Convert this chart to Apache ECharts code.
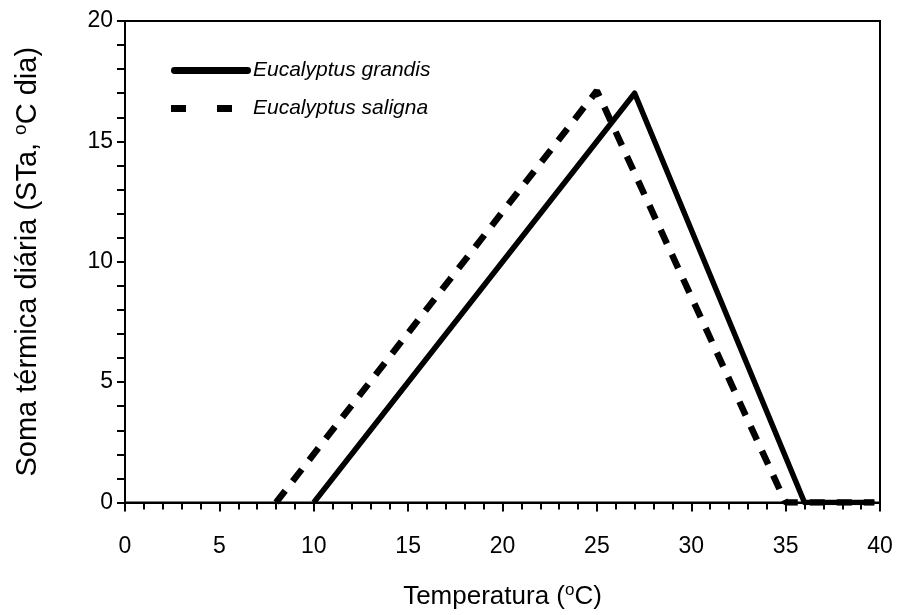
<!DOCTYPE html>
<html>
<head>
<meta charset="utf-8">
<script src="https://cdn.jsdelivr.net/npm/echarts@6/dist/echarts.min.js"></script>
<style>
  html, body { margin: 0; padding: 0; background: #fff; }
  #chartData { width: 903px; height: 615px; }
</style>
</head>
<body>
<div id="chartData"></div>
<script>
// dados
var grandisTemp = [10, 27, 36, 39.7];
var grandisSoma = [0, 17, 0, 0];
var salignaTemp = [8, 25, 35, 39.7];
var salignaSoma = [0, 17.1, 0, 0];
var seriesNames = ['Eucalyptus grandis', 'Eucalyptus saligna'];

function pares(xs, ys) {
    var out = [];
    for (var i = 0; i < xs.length; i++) out.push([xs[i], ys[i]]);
    return out;
}

var myChart = echarts.init(document.getElementById('chartData'));

var fonte = 'Liberation Sans, Arial, sans-serif';
function supRich(size) {
    return {
        sup: { fontSize: size, verticalAlign: 'top', padding: [0, 0, Math.round(size * 0.8), 0], fontFamily: fonte, color: '#000' }
    };
}

var option = {
    animation: false,
    grid: {
        left: 125, right: 23, top: 21, bottom: 111,
        show: true, borderColor: '#000', borderWidth: 2
    },
    legend: {
        orient: 'vertical',
        left: 166, top: 55,
        itemWidth: 80, itemHeight: 7, itemGap: 17,
        textStyle: { fontFamily: fonte, fontSize: 21, fontStyle: 'italic', color: '#000', padding: [0, 0, 0, -3] },
        data: [
            { name: seriesNames[0], icon: 'path://M3,0 H77 A3.5,3.5 0 0 1 77,7 H3 A3.5,3.5 0 0 1 3,0 Z' },
            { name: seriesNames[1], icon: 'path://M0,0 h15 v7 h-15 Z M46,0 h15 v7 h-15 Z M79.98,0 h0.02 v0.02 h-0.02 Z' }
        ]
    },
    xAxis: {
        type: 'value',
        min: 0, max: 40, interval: 5,
        name: 'Temperatura ({sup|o}C)',
        nameLocation: 'middle',
        nameGap: 79,
        nameTextStyle: { fontFamily: fonte, fontSize: 26, color: '#000', rich: supRich(17) },
        axisLine: { lineStyle: { color: '#000', width: 2 } },
        axisTick: { show: true, length: 9, lineStyle: { color: '#000', width: 2 } },
        minorTick: { show: true, splitNumber: 5, length: 7, lineStyle: { color: '#000', width: 2 } },
        axisLabel: { margin: 33, fontFamily: fonte, fontSize: 23, color: '#000' },
        splitLine: { show: false }
    },
    yAxis: {
        type: 'value',
        min: 0, max: 20, interval: 5,
        name: 'Soma térmica diária (STa, {sup|o}C dia)',
        nameLocation: 'middle',
        nameGap: 80,
        nameTextStyle: { fontFamily: fonte, fontSize: 29, color: '#000', rich: supRich(19) },
        axisLine: { lineStyle: { color: '#000', width: 2 } },
        axisTick: { show: true, length: 8, lineStyle: { color: '#000', width: 2 } },
        minorTick: { show: true, splitNumber: 5, length: 8, lineStyle: { color: '#000', width: 2 } },
        axisLabel: { margin: 12, fontFamily: fonte, fontSize: 23, color: '#000' },
        splitLine: { show: false }
    },
    series: [
        {
            name: seriesNames[0],
            type: 'line',
            symbol: 'none',
            lineStyle: { color: '#000', width: 5.5, join: 'round' },
            itemStyle: { color: '#000' },
            data: pares(grandisTemp, grandisSoma)
        },
        {
            name: seriesNames[1],
            type: 'line',
            symbol: 'none',
            lineStyle: { color: '#000', width: 6.5, type: [15, 12] },
            itemStyle: { color: '#000' },
            data: pares(salignaTemp, salignaSoma)
        }
    ]
};

myChart.setOption(option);
</script>
</body>
</html>
